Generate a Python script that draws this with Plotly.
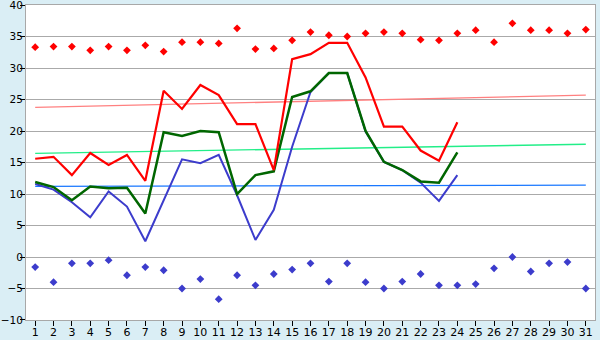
import plotly.graph_objects as go

days = list(range(1, 32))

red_line = [15.6, 15.9, 13.0, 16.5, 14.6, 16.2, 12.1, 26.4, 23.5, 27.3, 25.7, 21.1,
            21.1, 13.8, 31.4, 32.2, 34.0, 34.0, 28.5, 20.7, 20.7, 16.9, 15.3, 21.4]
green_line = [11.9, 11.1, 9.0, 11.2, 10.9, 11.0, 6.9, 19.8, 19.2, 20.0, 19.8, 10.0,
              13.0, 13.6, 25.4, 26.3, 29.2, 29.2, 20.0, 15.1, 13.8, 12.0, 11.8, 16.6]
blue_line = [11.6, 10.7, 8.7, 6.3, 10.4, 8.0, 2.5, 9.0, 15.5, 14.9, 16.2, 9.8,
             2.7, 7.5, 17.5, 26.2, 29.2, 29.2, 19.9, 15.1, 13.8, 11.8, 8.9, 13.0]
red_points = [33.3, 33.4, 33.4, 32.8, 33.4, 32.8, 33.6, 32.6, 34.1, 34.1, 33.9, 36.3,
              33.0, 33.1, 34.4, 35.7, 35.2, 35.0, 35.5, 35.7, 35.5, 34.5, 34.4, 35.5,
              36.0, 34.1, 37.1, 36.0, 36.0, 35.5, 36.1]
blue_points = [-1.6, -4.0, -1.0, -1.0, -0.5, -2.9, -1.6, -2.1, -5.0, -3.5, -6.7, -2.9,
               -4.5, -2.7, -2.0, -1.0, -3.9, -1.0, -4.0, -5.0, -3.9, -2.7, -4.5, -4.5,
               -4.3, -1.8, 0.0, -2.3, -1.0, -0.8, -5.0]
red_trend = [23.75, 25.7]
green_trend = [16.45, 17.9]
blue_trend = [11.2, 11.4]
trend_x = [1, 31]
y_ticks = list(range(-10, 41, 5))

fig = go.Figure()
fig.add_trace(go.Scatter(x=trend_x, y=red_trend, mode="lines",
                         line=dict(color="#ff8080", width=1.3)))
fig.add_trace(go.Scatter(x=trend_x, y=green_trend, mode="lines",
                         line=dict(color="#22ee88", width=1.3)))
fig.add_trace(go.Scatter(x=trend_x, y=blue_trend, mode="lines",
                         line=dict(color="#1a78ff", width=1.3)))
fig.add_trace(go.Scatter(x=days[:len(blue_line)], y=blue_line, mode="lines",
                         line=dict(color="#3c3ccc", width=2)))
fig.add_trace(go.Scatter(x=days[:len(green_line)], y=green_line, mode="lines",
                         line=dict(color="#006600", width=2.5)))
fig.add_trace(go.Scatter(x=days[:len(red_line)], y=red_line, mode="lines",
                         line=dict(color="#ff0000", width=2.2)))
fig.add_trace(go.Scatter(x=days, y=red_points, mode="markers",
                         marker=dict(symbol="diamond", size=6, color="#ff0000")))
fig.add_trace(go.Scatter(x=days, y=blue_points, mode="markers",
                         marker=dict(symbol="diamond", size=6, color="#3c3ccc")))

fig.update_layout(
    width=600, height=340,
    margin=dict(l=26, r=5, t=5, b=20),
    paper_bgcolor="#daeef5",
    plot_bgcolor="#ffffff",
    showlegend=False,
    font=dict(family="DejaVu Sans", size=11, color="#000000"),
)
fig.update_xaxes(range=[0.5, 31.5], tickvals=days, ticktext=[str(d) for d in days],
                 showgrid=False, zeroline=False, showline=True, linecolor="#a8a8a8",
                 mirror=True, ticks="outside", ticklen=5, tickcolor="#000000",
                 tickfont=dict(size=11), automargin=False, ticklabelstandoff=-3)
fig.update_yaxes(range=[-10.001, 40.001], tickvals=y_ticks, showgrid=True, gridcolor="#aaaaaa",
                 gridwidth=1, zeroline=False, showline=True, linecolor="#a8a8a8",
                 mirror=True, ticks="outside", ticklen=5, tickcolor="#000000",
                 tickfont=dict(size=10.5), ticklabeloverflow="allow", automargin=False,
                 ticklabelstandoff=-5)

fig.write_html("out.html")
